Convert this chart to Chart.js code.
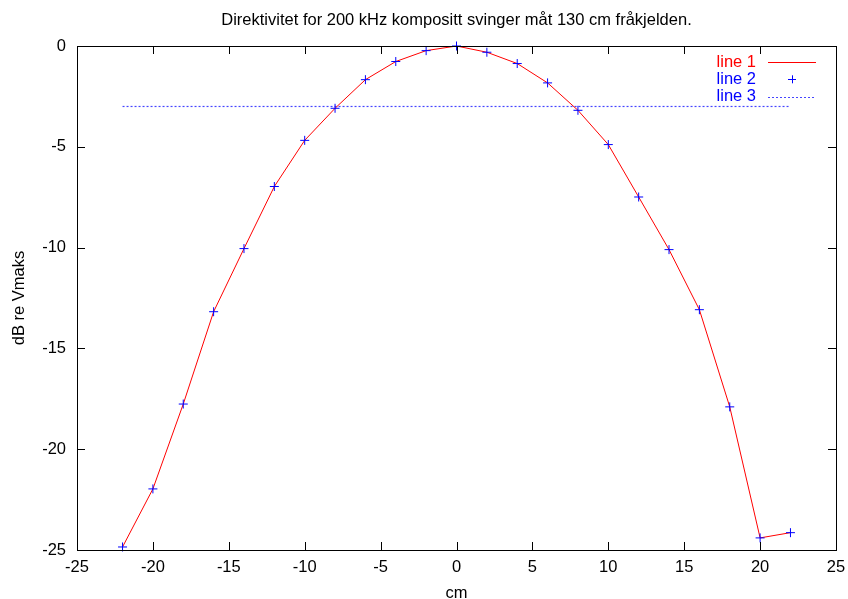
<!DOCTYPE html>
<html>
<head>
<meta charset="utf-8">
<script src="https://cdn.jsdelivr.net/npm/chart.js@4"></script>
<style>
  html, body { margin: 0; padding: 0; background: #fff; }
  #wrap { width: 848px; height: 599px; }
</style>
</head>
<body>
<div id="wrap"><canvas id="dirChart" width="848" height="599"></canvas></div>
<script>
// DATA
const positionsCm = [-22, -20, -18, -16, -14, -12, -10, -8, -6, -4, -2, 0, 2, 4, 6, 8, 10, 12, 14, 16, 18, 20, 22];
const levelDb = [-24.85, -21.97, -17.76, -13.18, -10.05, -6.97, -4.68, -3.09, -1.67, -0.77, -0.23, 0,
                 -0.31, -0.87, -1.83, -3.19, -4.89, -7.49, -10.1, -13.08, -17.9, -24.4, -24.14];
const halfPowerX = [-22, 22];
const halfPowerY = [-3, -3];
const xTicks = [-25, -20, -15, -10, -5, 0, 5, 10, 15, 20, 25];
const yTicks = [-25, -20, -15, -10, -5, 0];
const seriesNames = ["line 1", "line 2", "line 3"];

const FONT = "'Liberation Sans', Arial, sans-serif";
const FSIZE = 16.5;

const toPoints = (xs, ys) => xs.map((x, i) => ({ x: x, y: ys[i] }));

// gnuplot style frame, inward ticks, title and legend
const gnuplotLook = {
  id: "gnuplotLook",
  afterDatasetsDraw(chart) {
    const { ctx, chartArea: a, scales } = chart;
    ctx.save();
    ctx.strokeStyle = "#000";
    ctx.lineWidth = 1;
    ctx.strokeRect(Math.round(a.left) + 0.5, Math.round(a.top) + 0.5,
                   Math.round(a.right - a.left), Math.round(a.bottom - a.top));
    const tl = 8;
    ctx.beginPath();
    xTicks.forEach(v => {
      const px = Math.round(scales.x.getPixelForValue(v)) + 0.5;
      ctx.moveTo(px, a.bottom); ctx.lineTo(px, a.bottom - tl);
      ctx.moveTo(px, a.top); ctx.lineTo(px, a.top + tl);
    });
    yTicks.forEach(v => {
      const py = Math.round(scales.y.getPixelForValue(v)) + 0.5;
      ctx.moveTo(a.left, py); ctx.lineTo(a.left + tl, py);
      ctx.moveTo(a.right, py); ctx.lineTo(a.right - tl, py);
    });
    ctx.stroke();

    // title
    ctx.fillStyle = "#000";
    ctx.font = FSIZE + "px " + FONT;
    ctx.textAlign = "center";
    ctx.textBaseline = "middle";
    ctx.fillText("Direktivitet for 200 kHz kompositt svinger måt 130 cm fråkjelden.",
                 (a.left + a.right) / 2, 20);

    // legend
    ctx.textAlign = "right";
    chart.data.datasets.forEach((ds, i) => {
      const y = a.top + 16 + i * 17.3;
      ctx.fillStyle = ds.legendColor;
      ctx.fillText(ds.label, a.right - 80, y);
      ctx.strokeStyle = ds.borderColor;
      ctx.lineWidth = 1;
      ctx.beginPath();
      if (ds.showLine === false) {
        const cx = a.right - 44;
        ctx.moveTo(cx - 4, Math.round(y) + 0.5); ctx.lineTo(cx + 4, Math.round(y) + 0.5);
        ctx.moveTo(cx + 0.5, y - 4); ctx.lineTo(cx + 0.5, y + 4);
      } else {
        ctx.setLineDash(ds.borderDash || []);
        ctx.moveTo(a.right - 68, Math.round(y) + 0.5);
        ctx.lineTo(a.right - 20, Math.round(y) + 0.5);
      }
      ctx.stroke();
      ctx.setLineDash([]);
    });
    ctx.restore();
  }
};

new Chart(document.getElementById("dirChart"), {
  type: "scatter",
  data: {
    datasets: [
      {
        label: seriesNames[0],
        data: toPoints(positionsCm, levelDb),
        showLine: true,
        borderColor: "#ff0000",
        legendColor: "#ff0000",
        borderWidth: 1,
        pointRadius: 0,
        tension: 0,
        order: 2
      },
      {
        label: seriesNames[1],
        data: toPoints(positionsCm, levelDb),
        showLine: false,
        pointStyle: "cross",
        pointRadius: 4.5,
        borderColor: "#0000ff",
        backgroundColor: "#0000ff",
        legendColor: "#0000ff",
        pointBorderWidth: 1,
        clip: false,
        order: 1
      },
      {
        label: seriesNames[2],
        data: toPoints(halfPowerX, halfPowerY),
        showLine: true,
        borderColor: "#4646ff",
        legendColor: "#0000ff",
        borderWidth: 1.2,
        borderDash: [2, 2],
        pointRadius: 0,
        order: 3
      }
    ]
  },
  options: {
    responsive: false,
    animation: false,
    layout: { padding: { top: 46, right: 12, left: 0, bottom: 0 } },
    plugins: {
      legend: { display: false },
      title: { display: false },
      tooltip: { enabled: false }
    },
    scales: {
      x: {
        type: "linear",
        min: -25,
        max: 25,
        afterFit: s => { s.height = 49; s.paddingLeft = 0; s.paddingRight = 0; },
        afterBuildTicks: s => { s.ticks = xTicks.map(v => ({ value: v })); },
        grid: { display: false, drawTicks: false },
        border: { display: false },
        ticks: { color: "#000", padding: 8, font: { family: FONT, size: FSIZE } },
        title: {
          display: true,
          text: "cm",
          color: "#000",
          padding: { top: 0, bottom: -3 },
          font: { family: FONT, size: FSIZE, lineHeight: 1 }
        }
      },
      y: {
        type: "linear",
        min: -25,
        max: 0,
        afterFit: s => { s.width = 77; s.paddingTop = 0; s.paddingBottom = 0; },
        afterBuildTicks: s => { s.ticks = yTicks.map(v => ({ value: v })); },
        grid: { display: false, drawTicks: false },
        border: { display: false },
        ticks: { color: "#000", padding: 11, font: { family: FONT, size: FSIZE } },
        title: {
          display: true,
          text: "dB re Vmaks",
          color: "#000",
          padding: { top: 10, bottom: 0 },
          font: { family: FONT, size: FSIZE, lineHeight: 1.2 }
        }
      }
    }
  },
  plugins: [gnuplotLook]
});
</script>
</body>
</html>
